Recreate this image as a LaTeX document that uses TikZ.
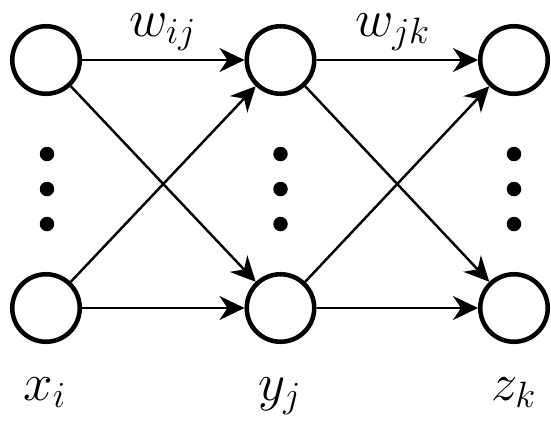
\documentclass[tikz,border=0pt]{standalone}
\usepackage{tikz}
\usetikzlibrary{arrows.meta}

\begin{document}
\begin{tikzpicture}[
    neuron/.style={draw, circle, line width=2.6pt, minimum size=1.35cm, inner sep=0pt},
    dotmark/.style={fill, circle, minimum size=0.29cm, inner sep=0pt},
    wlabel/.style={anchor=base, inner sep=0pt, font=\LARGE, scale=1.74, transform shape},
    link/.style={line width=1.4pt, -{Stealth[length=0.5cm, width=0.48cm, inset=0.16cm]}}
  ]
  \useasboundingbox (0,0) rectangle (11.02,-8.42);

  % neurons
  \node[neuron] (x1) at (0.92,-1.2) {};
  \node[neuron] (y1) at (5.61,-1.2) {};
  \node[neuron] (z1) at (10.28,-1.2) {};

  \node[neuron] (x2) at (0.92,-6.16) {};
  \node[neuron] (y2) at (5.61,-6.16) {};
  \node[neuron] (z2) at (10.28,-6.16) {};

  % dots
  \foreach \px/\nm in {0.94/x, 5.61/y, 10.28/z}
    \foreach \py/\k in {-3.08/a, -3.78/b, -4.48/c}
      \node[dotmark] (d\nm\k) at (\px,\py) {};

  % connections
  \draw[link] (x1) -- (y1);
  \draw[link] (x1) -- (y2);
  \draw[link] (x2) -- (y1);
  \draw[link] (x2) -- (y2);

  \draw[link] (y1) -- (z1);
  \draw[link] (y1) -- (z2);
  \draw[link] (y2) -- (z1);
  \draw[link] (y2) -- (z2);

  % labels
  \node[wlabel] (wij) at (3.26,-0.72) {$w_{ij}$};
  \node[wlabel] (wjk) at (7.86,-0.72) {$w_{jk}$};

  \node[wlabel] (lx) at (0.9,-8.0) {$x_i$};
  \node[wlabel] (ly) at (5.6,-8.0) {$y_j$};
  \node[wlabel] (lz) at (10.28,-8.0) {$z_k$};
\end{tikzpicture}
\end{document}
